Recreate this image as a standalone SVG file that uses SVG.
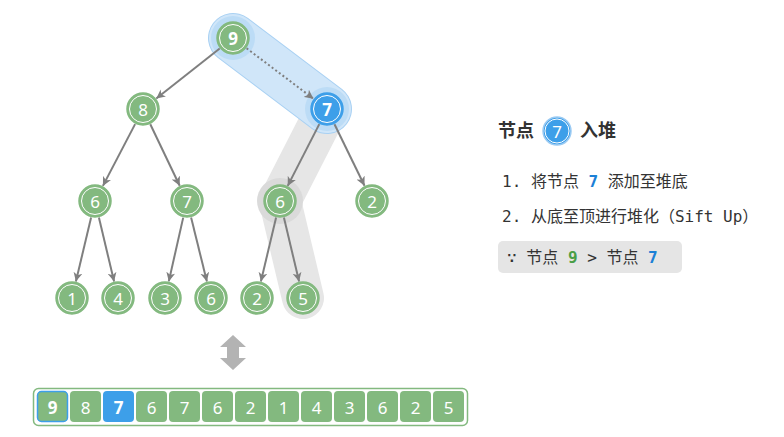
<svg xmlns="http://www.w3.org/2000/svg" width="784" height="437" viewBox="0 0 784 437">
<defs>
<marker id="arr" markerWidth="10" markerHeight="10" refX="9" refY="5" orient="auto" markerUnits="userSpaceOnUse">
<path d="M0,0.5 L9,5 L0,9.5 L2.5,5 z" fill="#7f7f7f"/>
</marker>
<style>
.edge{stroke:#7f7f7f;stroke-width:2;fill:none;marker-end:url(#arr)}
.ng{fill:#83b97f;stroke:#83b97f;stroke-width:1.5}
.nb{fill:#3d9fe9;stroke:#3d9fe9;stroke-width:1.5}
.ring{fill:none;stroke:#ffffff;stroke-width:1}
.lbl{font-family:"Noto Sans","DejaVu Sans",sans-serif;font-size:17px;fill:#ffffff;text-anchor:middle;dominant-baseline:central}
.b{font-weight:bold}
.cell{fill:#83b97f;}
.txt{font-family:"DejaVu Sans Mono","Noto Sans CJK SC",monospace;font-size:16px;fill:#333333}
</style>
</defs>
<rect width="784" height="437" fill="#ffffff"/>

<g id="highlights">
<path d="M327,109 L280,201 L303,298" stroke="#e6e6e6" stroke-width="42" stroke-linecap="round" stroke-linejoin="round" fill="none"/>
<circle cx="280" cy="201" r="23" fill="#dadada"/>
<line x1="233" y1="38" x2="327" y2="109" stroke="#a9d1f3" stroke-width="50" stroke-linecap="round"/>
<line x1="233" y1="38" x2="327" y2="109" stroke="#d0e6f9" stroke-width="48" stroke-linecap="round"/>
<circle cx="233" cy="38" r="22" fill="#bcdcf6"/>
<circle cx="327" cy="109" r="22" fill="#bcdcf6"/>
</g>

<g id="connectors">
<line class="edge" x1="219.7" y1="48.5" x2="156.3" y2="98.5"/>
<line x1="246.6" y1="48.3" x2="313.4" y2="98.7" stroke="#7f7f7f" stroke-width="2" stroke-dasharray="2,2.5" marker-end="url(#arr)"/>
<line class="edge" x1="135.1" y1="124.1" x2="102.9" y2="185.9"/>
<line class="edge" x1="150.3" y1="124.3" x2="179.7" y2="185.7"/>
<line class="edge" x1="319.3" y1="124.1" x2="287.7" y2="185.9"/>
<line class="edge" x1="334.5" y1="124.3" x2="364.5" y2="185.7"/>
<line class="edge" x1="91.1" y1="217.5" x2="75.9" y2="281.5"/>
<line class="edge" x1="98.9" y1="217.5" x2="114.1" y2="281.5"/>
<line class="edge" x1="183.2" y1="217.6" x2="168.8" y2="281.4"/>
<line class="edge" x1="191.1" y1="217.5" x2="206.9" y2="281.5"/>
<line class="edge" x1="276.1" y1="217.5" x2="260.9" y2="281.5"/>
<line class="edge" x1="283.9" y1="217.5" x2="299.1" y2="281.5"/>
</g>

<g id="n9"><circle class="ng" cx="233" cy="38" r="16" stroke="#3d9fe9"/><circle class="ring" cx="233" cy="38" r="13.5"/><text class="lbl b" x="233" y="38">9</text></g>
<g id="n8"><circle class="ng" cx="143" cy="109" r="16"/><circle class="ring" cx="143" cy="109" r="13.5"/><text class="lbl" x="143" y="109">8</text></g>
<g id="n7"><circle class="nb" cx="327" cy="109" r="16"/><circle class="ring" cx="327" cy="109" r="13.5"/><text class="lbl b" x="327" y="109">7</text></g>
<g id="n6a"><circle class="ng" cx="95" cy="201" r="16"/><circle class="ring" cx="95" cy="201" r="13.5"/><text class="lbl" x="95" y="201">6</text></g>
<g id="n7b"><circle class="ng" cx="187" cy="201" r="16"/><circle class="ring" cx="187" cy="201" r="13.5"/><text class="lbl" x="187" y="201">7</text></g>
<g id="n6b"><circle class="ng" cx="280" cy="201" r="16"/><circle class="ring" cx="280" cy="201" r="13.5"/><text class="lbl" x="280" y="201">6</text></g>
<g id="n2a"><circle class="ng" cx="372" cy="201" r="16"/><circle class="ring" cx="372" cy="201" r="13.5"/><text class="lbl" x="372" y="201">2</text></g>
<g id="n1"><circle class="ng" cx="72" cy="298" r="16"/><circle class="ring" cx="72" cy="298" r="13.5"/><text class="lbl" x="72" y="298">1</text></g>
<g id="n4"><circle class="ng" cx="118" cy="298" r="16"/><circle class="ring" cx="118" cy="298" r="13.5"/><text class="lbl" x="118" y="298">4</text></g>
<g id="n3"><circle class="ng" cx="165" cy="298" r="16"/><circle class="ring" cx="165" cy="298" r="13.5"/><text class="lbl" x="165" y="298">3</text></g>
<g id="n6c"><circle class="ng" cx="211" cy="298" r="16"/><circle class="ring" cx="211" cy="298" r="13.5"/><text class="lbl" x="211" y="298">6</text></g>
<g id="n2b"><circle class="ng" cx="257" cy="298" r="16"/><circle class="ring" cx="257" cy="298" r="13.5"/><text class="lbl" x="257" y="298">2</text></g>
<g id="n5"><circle class="ng" cx="303" cy="298" r="16"/><circle class="ring" cx="303" cy="298" r="13.5"/><text class="lbl" x="303" y="298">5</text></g>

<g id="swap-arrow">
<path d="M233,335 L246,347 L239,347 L239,358 L246,358 L233,370 L220,358 L227,358 L227,347 L220,347 z" fill="#b3b3b3"/>
</g>

<g id="array">
<rect x="33.5" y="388.5" width="434" height="37" rx="5" fill="#ffffff" stroke="#83b97f" stroke-width="1.5"/>
<rect x="37.5" y="391.5" width="30" height="30" rx="4" fill="#83b97f" stroke="#3d9fe9" stroke-width="1.5"/>
<rect class="cell" x="70" y="391" width="31" height="31" rx="4"/>
<rect x="103" y="391" width="31" height="31" rx="4" fill="#3d9fe9"/>
<rect class="cell" x="136" y="391" width="31" height="31" rx="4"/>
<rect class="cell" x="169" y="391" width="31" height="31" rx="4"/>
<rect class="cell" x="202" y="391" width="31" height="31" rx="4"/>
<rect class="cell" x="235" y="391" width="31" height="31" rx="4"/>
<rect class="cell" x="268" y="391" width="31" height="31" rx="4"/>
<rect class="cell" x="301" y="391" width="31" height="31" rx="4"/>
<rect class="cell" x="334" y="391" width="31" height="31" rx="4"/>
<rect class="cell" x="367" y="391" width="31" height="31" rx="4"/>
<rect class="cell" x="400" y="391" width="31" height="31" rx="4"/>
<rect class="cell" x="433" y="391" width="31" height="31" rx="4"/>
<text class="lbl b" x="52.5" y="407">9</text>
<text class="lbl" x="85.5" y="407">8</text>
<text class="lbl b" x="118.5" y="407">7</text>
<text class="lbl" x="151.5" y="407">6</text>
<text class="lbl" x="184.5" y="407">7</text>
<text class="lbl" x="217.5" y="407">6</text>
<text class="lbl" x="250.5" y="407">2</text>
<text class="lbl" x="283.5" y="407">1</text>
<text class="lbl" x="316.5" y="407">4</text>
<text class="lbl" x="349.5" y="407">3</text>
<text class="lbl" x="382.5" y="407">6</text>
<text class="lbl" x="415.5" y="407">2</text>
<text class="lbl" x="448.5" y="407">5</text>
</g>

<g id="legend">
<text x="498" y="137" font-family="'Noto Sans CJK SC',sans-serif" font-size="18" font-weight="bold" fill="#333333">节点</text>
<circle cx="557" cy="131" r="14" fill="#3d9fe9" stroke="#9ccbf3" stroke-width="1.5"/>
<circle cx="557" cy="131" r="12" fill="none" stroke="#ffffff" stroke-width="1"/>
<text class="lbl" x="557" y="131">7</text>
<text x="580" y="137" font-family="'Noto Sans CJK SC',sans-serif" font-size="18" font-weight="bold" fill="#333333">入堆</text>
<text class="txt" x="502" y="187">1. 将节点 <tspan fill="#1b80d6" font-weight="bold">7</tspan> 添加至堆底</text>
<text class="txt" x="502" y="222">2. 从底至顶进行堆化（Sift Up）</text>
<rect x="498" y="241" width="184" height="32" rx="5" fill="#e5e5e5"/>
<text class="txt" x="507" y="263">∵ 节点 <tspan fill="#4a9e47" font-weight="bold">9</tspan> &gt; 节点 <tspan fill="#1b80d6" font-weight="bold">7</tspan></text>
</g>
</svg>
